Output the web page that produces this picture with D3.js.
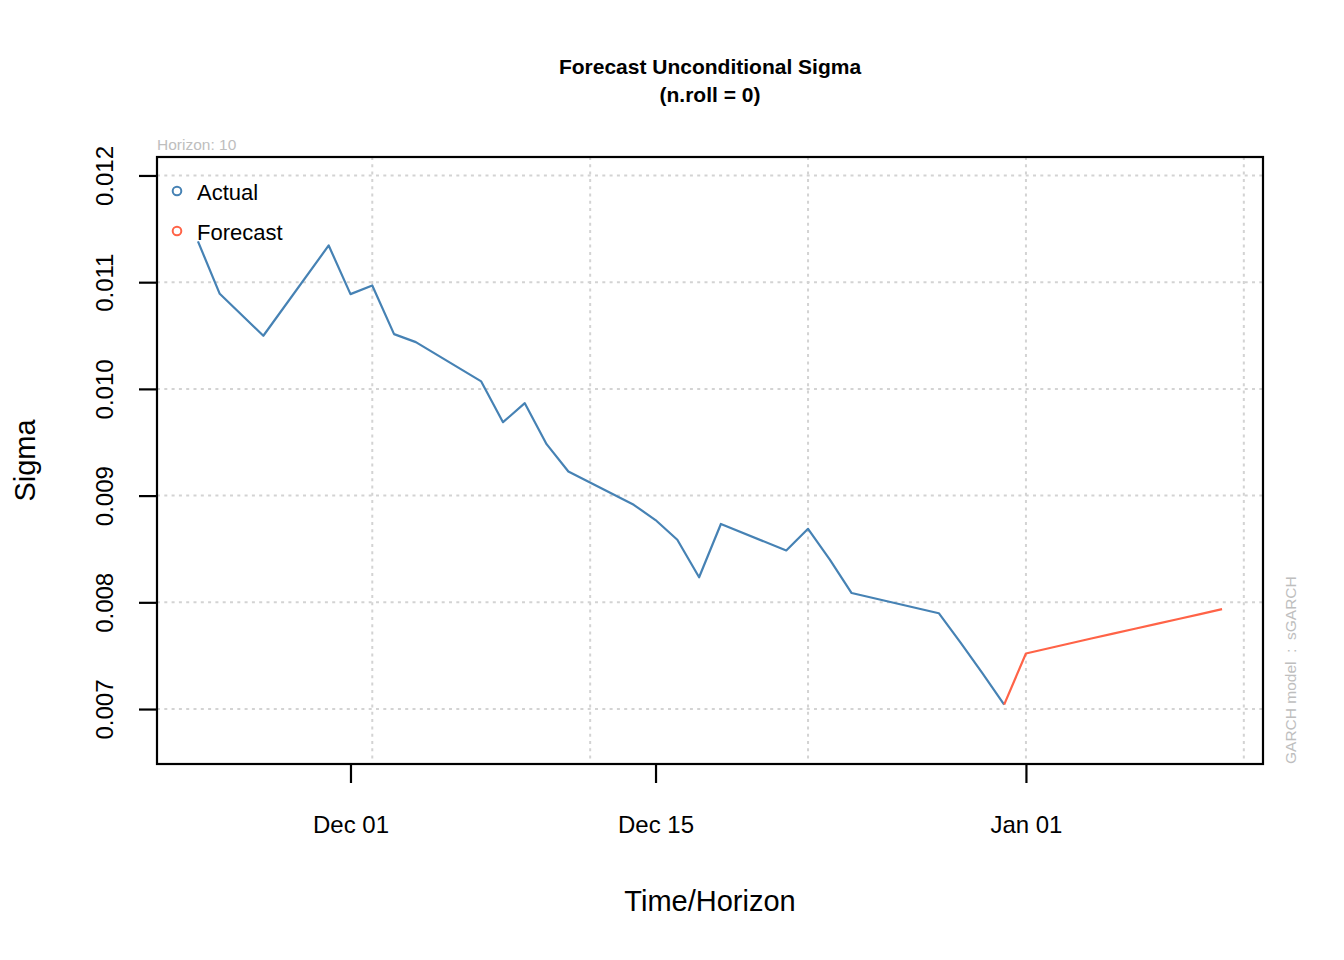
<!DOCTYPE html>
<html>
<head>
<meta charset="utf-8">
<script src="https://cdn.jsdelivr.net/npm/d3@7"></script>
<style>
  html, body { margin: 0; padding: 0; background: #ffffff; }
  svg { display: block; font-family: "Liberation Sans", Arial, sans-serif; }
</style>
</head>
<body>
<svg id="chart" width="1344" height="960"></svg>
<script>
// ---- Data ----
const actualDates = ["2015-11-24","2015-11-25","2015-11-27","2015-11-30","2015-12-01","2015-12-02",
  "2015-12-03","2015-12-04","2015-12-07","2015-12-08","2015-12-09","2015-12-10","2015-12-11",
  "2015-12-14","2015-12-15","2015-12-16","2015-12-17","2015-12-18","2015-12-21","2015-12-22",
  "2015-12-23","2015-12-24","2015-12-28","2015-12-29","2015-12-30","2015-12-31"];
const actualSigma = [0.011382,0.010891,0.010498,0.011344,0.010888,0.010969,
  0.010513,0.010438,0.010070,0.009688,0.009866,0.009482,0.009226,
  0.008914,0.008771,0.008586,0.008235,0.008734,0.008486,0.008689,
  0.008401,0.008087,0.007898,0.007623,0.007337,0.007042];
const forecastDates = ["2015-12-31","2016-01-01","2016-01-02","2016-01-03","2016-01-04","2016-01-05",
  "2016-01-06","2016-01-07","2016-01-08","2016-01-09","2016-01-10"];
const forecastSigma = [0.007042,0.007520,0.007567,0.007614,0.007661,0.007707,
  0.007752,0.007798,0.007844,0.007890,0.007936];
const yTicks = [0.007,0.008,0.009,0.010,0.011,0.012];
const yTickLabels = ["0.007","0.008","0.009","0.010","0.011","0.012"];
const xTickDates = ["2015-12-01","2015-12-15","2016-01-01"];
const xTickLabels = ["Dec 01","Dec 15","Jan 01"];
const xGridDates = ["2015-12-02","2015-12-12","2015-12-22","2016-01-01","2016-01-11"];
const legendLabels = ["Actual","Forecast"];
const titleLines = ["Forecast Unconditional Sigma","(n.roll = 0)"];

// ---- Layout ----
const W = 1344, H = 960;
const box = {left: 157, right: 1263, top: 157, bottom: 764};
const colActual = "#4682B4", colForecast = "#FF6347";
const parse = d3.utcParse("%Y-%m-%d");

const first = parse(actualDates[0]), last = parse(forecastDates[forecastDates.length-1]);
const span = last - first;
const x = d3.scaleUtc()
  .domain([new Date(+first - 0.04*span), new Date(+last + 0.04*span)])
  .range([box.left, box.right]);
const y = d3.scaleLinear().domain([0.006485, 0.012173]).range([box.bottom, box.top]);

const svg = d3.select("#chart");
svg.append("rect").attr("width", W).attr("height", H).attr("fill", "#fff");

// grid
const g = svg.append("g");
g.selectAll("line.hg").data(yTicks).enter().append("line")
  .attr("x1", box.left).attr("x2", box.right)
  .attr("y1", d => y(d)).attr("y2", d => y(d))
  .attr("stroke", "#D3D3D3").attr("stroke-width", 2).attr("stroke-dasharray", "3,4.3");
g.selectAll("line.vg").data(xGridDates).enter().append("line")
  .attr("x1", d => x(parse(d))).attr("x2", d => x(parse(d)))
  .attr("y1", box.top).attr("y2", box.bottom)
  .attr("stroke", "#D3D3D3").attr("stroke-width", 2).attr("stroke-dasharray", "3,4.3");

// lines
const line = d3.line().x(d => x(d[0])).y(d => y(d[1]));
svg.append("path")
  .datum(actualDates.map((d,i) => [parse(d), actualSigma[i]]))
  .attr("d", line).attr("fill", "none").attr("stroke", colActual)
  .attr("stroke-width", 2.2).attr("stroke-linejoin", "round");
svg.append("path")
  .datum(forecastDates.map((d,i) => [parse(d), forecastSigma[i]]))
  .attr("d", line).attr("fill", "none").attr("stroke", colForecast)
  .attr("stroke-width", 2.2).attr("stroke-linejoin", "round");

// frame
svg.append("rect").attr("x", box.left).attr("y", box.top)
  .attr("width", box.right - box.left).attr("height", box.bottom - box.top)
  .attr("fill", "none").attr("stroke", "#000").attr("stroke-width", 2.2);

// x axis
const xAxis = d3.axisBottom(x)
  .tickValues(xTickDates.map(parse))
  .tickFormat((d,i) => xTickLabels[i])
  .tickSize(19).tickPadding(33);
const gx = svg.append("g").attr("transform", `translate(0,${box.bottom})`).call(xAxis);
gx.select(".domain").remove();
gx.selectAll(".tick line").attr("stroke", "#000").attr("stroke-width", 2.2);
gx.selectAll(".tick text").attr("fill", "#000").attr("font-size", 24)
  .attr("font-family", "'Liberation Sans', Arial, sans-serif");

// y axis
const yAxis = d3.axisLeft(y).tickValues(yTicks).tickFormat((d,i) => yTickLabels[i]).tickSize(18);
const gy = svg.append("g").attr("transform", `translate(${box.left},0)`).call(yAxis);
gy.select(".domain").remove();
gy.selectAll(".tick line").attr("stroke", "#000").attr("stroke-width", 2.2);
gy.selectAll(".tick text").remove();
gy.selectAll(".tick").append("text")
  .attr("transform", "translate(-44,0) rotate(-90)")
  .attr("text-anchor", "middle").attr("fill", "#000").attr("font-size", 24)
  .attr("font-family", "'Liberation Sans', Arial, sans-serif")
  .text((d,i) => yTickLabels[i]);

// titles
svg.selectAll("text.title").data(titleLines).enter().append("text")
  .attr("x", (box.left + box.right)/2).attr("y", (d,i) => 74 + i*27.5)
  .attr("text-anchor", "middle").attr("font-weight", "bold").attr("font-size", 21)
  .attr("fill", "#000").text(d => d);
svg.append("text").attr("x", (box.left + box.right)/2).attr("y", 911)
  .attr("text-anchor", "middle").attr("font-size", 29).attr("fill", "#000").text("Time/Horizon");
svg.append("text").attr("transform", `translate(35,${(box.top+box.bottom)/2}) rotate(-90)`)
  .attr("text-anchor", "middle").attr("font-size", 29).attr("fill", "#000").text("Sigma");

// horizon note and model note
svg.append("text").attr("x", box.left).attr("y", 150)
  .attr("font-size", 15.5).attr("fill", "#BEBEBE").text("Horizon: 10");
svg.append("text").attr("transform", `translate(1296,${box.bottom}) rotate(-90)`)
  .attr("font-size", 15.5).attr("fill", "#BEBEBE").attr("text-anchor", "start")
  .attr("xml:space", "preserve").style("white-space", "pre")
  .text("GARCH model  :  sGARCH");

// legend
const leg = svg.append("g");
leg.selectAll("circle").data(legendLabels).enter().append("circle")
  .attr("cx", 177).attr("cy", (d,i) => 191 + i*40).attr("r", 4.3)
  .attr("fill", "none").attr("stroke-width", 2)
  .attr("stroke", (d,i) => i === 0 ? colActual : colForecast);
leg.selectAll("text").data(legendLabels).enter().append("text")
  .attr("x", 197).attr("y", (d,i) => 200 + i*40)
  .attr("font-size", 22).attr("fill", "#000").text(d => d);
</script>
</body>
</html>
